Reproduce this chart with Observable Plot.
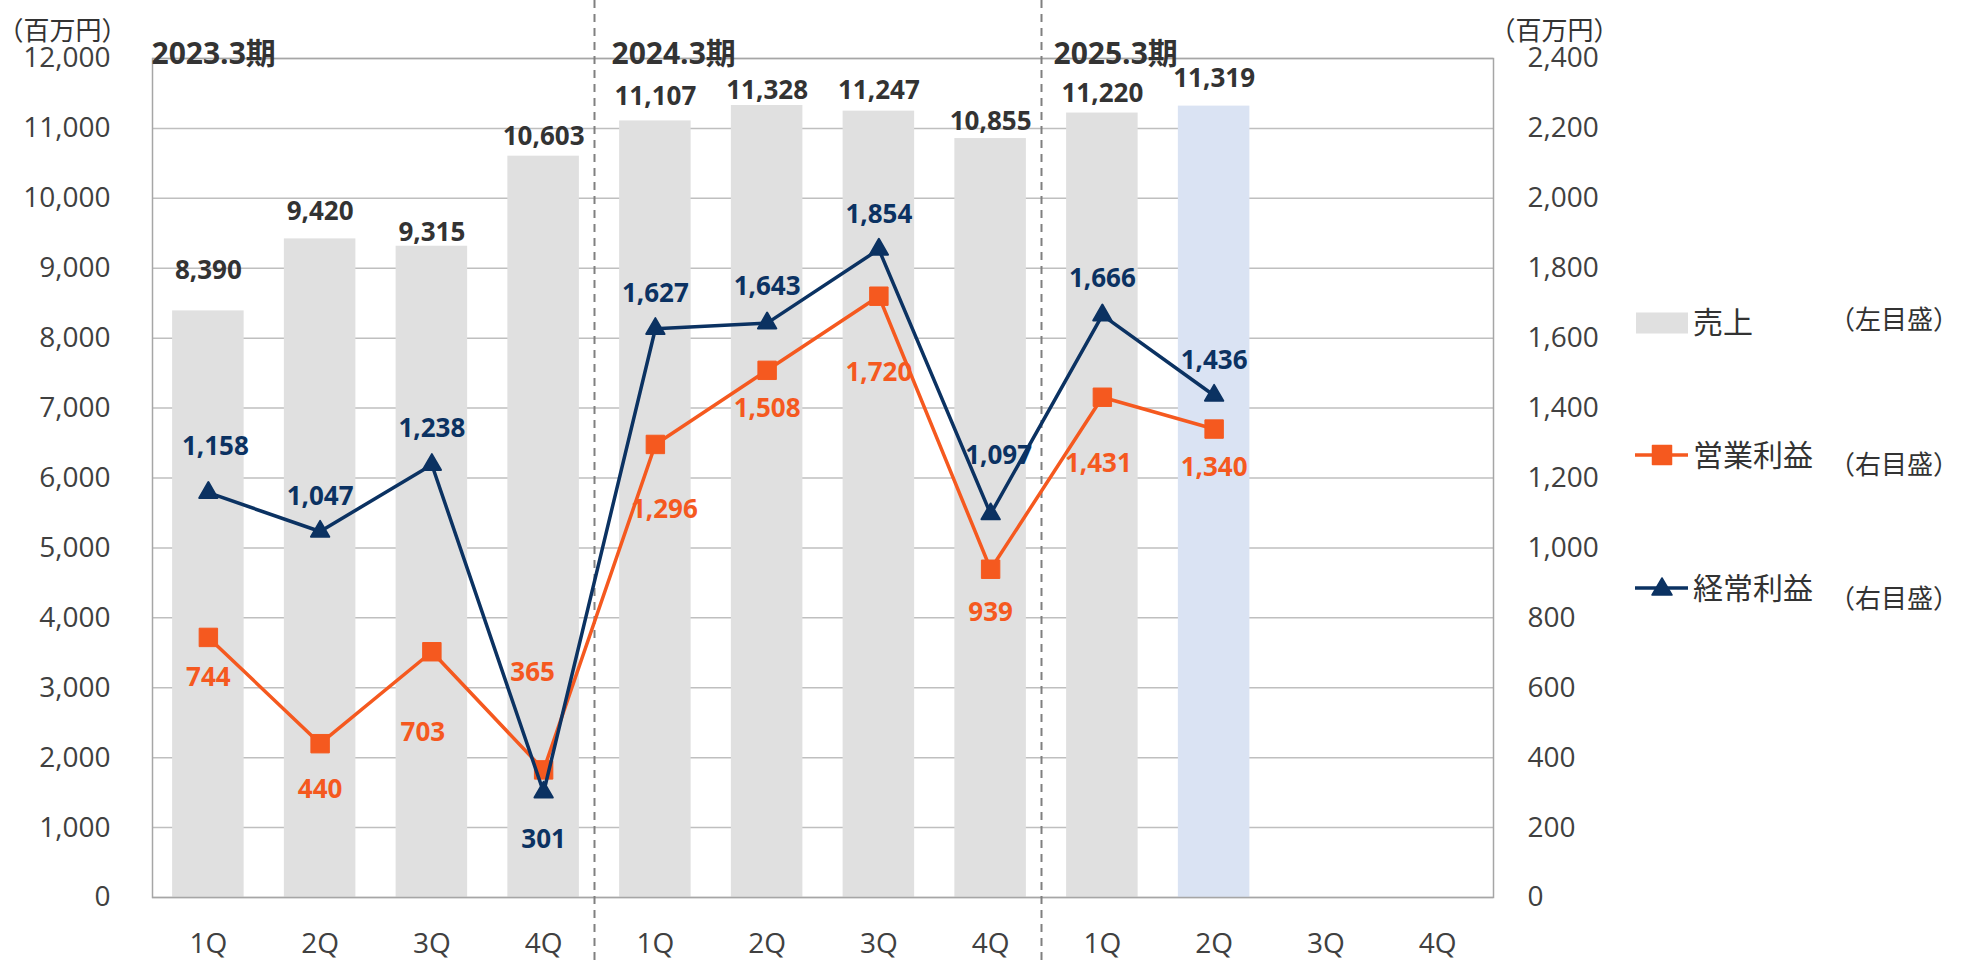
<!DOCTYPE html>
<html>
<head>
<meta charset="utf-8">
<script src="https://cdn.jsdelivr.net/npm/d3@7"></script>
<script src="https://cdn.jsdelivr.net/npm/@observablehq/plot@0.6"></script>
<style>
  html, body { margin: 0; padding: 0; background: #fff; }
  #wrap { position: relative; width: 1964px; height: 962px; font-family: "Open Sans", "Noto Sans CJK JP", sans-serif; color: #404040; }
  .lg { position: absolute; white-space: nowrap; }
</style>
</head>
<body>
<div id="wrap"></div>
<script>
// ---------------- data ----------------
const periods = ["2023.3期", "2024.3期", "2025.3期"];
const quarters = ["1Q", "2Q", "3Q", "4Q"];
const sales           = [8390, 9420, 9315, 10603, 11107, 11328, 11247, 10855, 11220, 11319, null, null];
const operatingProfit = [744, 440, 703, 365, 1296, 1508, 1720, 939, 1431, 1340, null, null];
const ordinaryProfit  = [1158, 1047, 1238, 301, 1627, 1643, 1854, 1097, 1666, 1436, null, null];
const leftTicks  = [0, 1000, 2000, 3000, 4000, 5000, 6000, 7000, 8000, 9000, 10000, 11000, 12000];
const rightTicks = [0, 200, 400, 600, 800, 1000, 1200, 1400, 1600, 1800, 2000, 2200, 2400];
const highlightKey = "2025.3期|2Q";
const unitLabel = "（百万円）";
const legendItems = ["売上", "営業利益", "経常利益"];
const legendScales = ["（左目盛）", "（右目盛）", "（右目盛）"];

// ---------------- label layout (pixel nudges) ----------------
const salesDy = [-40, -27, -14, -20, -24, -15, -20, -17, -19, -27];
const ordDy   = [-46, -35, -36, 47, -35, -36, -35, -58, -36, -35];
const ordDx   = [7, 0, 0, 0, 0, 0, 0, 8, 0, 0];
const opDy    = [40, 46, 81, -97, 65, 38, 76, 43, 66, 39];
const opDx    = [0, 0, -9, -11, 9, 0, 0, 0, -4, 0];
const periodDx = [-1, 12, 7];

// ---------------- build ----------------
const W = 1964, H = 962;
const mL = 152, mR = 471, mT = 58, mB = 65;
const step = (W - mL - mR) / 12;
const ratio = leftTicks[leftTicks.length - 1] / rightTicks[rightTicks.length - 1];
const fmt = d3.format(",");
const GREY = "#e0e0e0", BLUE = "#dae3f3", ORANGE = "#f5591f", NAVY = "#0b3262", DARK = "#333333";

const keys = periods.flatMap(p => quarters.map(q => p + "|" + q));
const rows = keys.map((key, i) => ({key, sales: sales[i], op: operatingProfit[i], ord: ordinaryProfit[i]}));
const salesRows = rows.filter(d => d.sales != null);
const opRows = rows.filter(d => d.op != null);
const ordRows = rows.filter(d => d.ord != null);

const labelFont = {fontSize: 26, fontWeight: "bold"};

const salesLabels = salesRows.map((d, i) => Plot.text([d], {
  x: "key", y: "sales", text: r => fmt(r.sales), dy: salesDy[i], fill: DARK, ...labelFont
}));
const opLabels = opRows.map((d, i) => Plot.text([d], {
  x: "key", y: r => r.op * ratio, text: r => fmt(r.op), dy: opDy[i], dx: opDx[i], fill: ORANGE, ...labelFont
}));
const ordLabels = ordRows.map((d, i) => Plot.text([d], {
  x: "key", y: r => r.ord * ratio, text: r => fmt(r.ord), dy: ordDy[i], dx: ordDx[i], fill: NAVY, ...labelFont
}));
const periodLabels = periods.map((p, i) => Plot.text([{p, key: p + "|1Q"}], {
  x: "key", frameAnchor: "top", text: "p", textAnchor: "start", dx: -step / 2 + periodDx[i], dy: -16,
  fontSize: 30, fontWeight: "bold", fill: DARK
}));

const chart = Plot.plot({
  width: W, height: H,
  marginLeft: mL, marginRight: mR, marginTop: mT, marginBottom: mB,
  style: {fontFamily: "'Open Sans','Noto Sans CJK JP',sans-serif", color: "#404040", background: "white", overflow: "visible"},
  x: {type: "band", domain: keys, paddingInner: 0.36, paddingOuter: 0.18, round: false},
  y: {domain: [leftTicks[0], leftTicks[leftTicks.length - 1]]},
  marks: [
    Plot.gridY(leftTicks, {stroke: "#bfbfbf", strokeOpacity: 1, strokeWidth: 1.5}),
    Plot.barY(salesRows, {x: "key", y: "sales", fill: d => d.key === highlightKey ? BLUE : GREY}),
    Plot.frame({stroke: "#a6a6a6", strokeWidth: 1.5}),
    Plot.ruleX([keys[4], keys[8]], {x: d => d, dx: -step / 2 - 5, stroke: "#808080", strokeWidth: 2, strokeDasharray: "8,6", insetTop: -mT, insetBottom: -mB}),
    Plot.axisY(leftTicks, {anchor: "left", tickSize: 0, tickPadding: 42, fontSize: 28, tickFormat: fmt, label: null}),
    Plot.axisY(leftTicks, {anchor: "right", tickSize: 0, tickPadding: 34, fontSize: 28, tickFormat: d => fmt(d / ratio), label: null}),
    Plot.axisX(keys, {tickSize: 0, tickPadding: 36, fontSize: 28, tickFormat: k => k.split("|")[1], label: null}),
    Plot.line(opRows, {x: "key", y: d => d.op * ratio, stroke: ORANGE, strokeWidth: 3.5}),
    Plot.dot(opRows, {x: "key", y: d => d.op * ratio, symbol: "square", r: 10.4, fill: ORANGE, stroke: ORANGE, strokeWidth: 1, strokeLinejoin: "round"}),
    Plot.line(ordRows, {x: "key", y: d => d.ord * ratio, stroke: NAVY, strokeWidth: 3.5}),
    Plot.dot(ordRows, {x: "key", y: d => d.ord * ratio, symbol: "triangle", r: 6.8, fill: NAVY, stroke: NAVY, strokeWidth: 2, strokeLinejoin: "round"}),
    ...salesLabels,
    ...opLabels,
    ...ordLabels,
    ...periodLabels,
    Plot.text([unitLabel], {frameAnchor: "top-left", textAnchor: "end", dx: -25, dy: -37, fontSize: 26, fill: "#333"}),
    Plot.text([unitLabel], {frameAnchor: "top-right", textAnchor: "start", dx: -4, dy: -37, fontSize: 26, fill: "#333"})
  ]
});

const wrap = document.getElementById("wrap");
wrap.appendChild(chart);

// ---------------- legend (HTML, right side) ----------------
const rowCenters = [322, 455, 588];
const scaleCenters = [319, 464, 598];
function addText(txt, left, center, size) {
  const s = document.createElement("div");
  s.className = "lg";
  s.textContent = txt;
  s.style.left = left + "px";
  s.style.top = (center - size * 0.62) + "px";
  s.style.fontSize = size + "px";
  s.style.lineHeight = (size * 1.24) + "px";
  s.style.color = "#333";
  wrap.appendChild(s);
}
function addSwatch(i, center) {
  const ns = "http://www.w3.org/2000/svg";
  const svg = document.createElementNS(ns, "svg");
  svg.setAttribute("width", 60); svg.setAttribute("height", 30);
  svg.style.position = "absolute";
  svg.style.left = "1632px";
  svg.style.top = (center - 15) + "px";
  if (i === 0) {
    const r = document.createElementNS(ns, "rect");
    r.setAttribute("x", 4); r.setAttribute("y", 4.5); r.setAttribute("width", 52); r.setAttribute("height", 21);
    r.setAttribute("fill", GREY);
    svg.appendChild(r);
  } else {
    const col = i === 1 ? ORANGE : NAVY;
    const l = document.createElementNS(ns, "line");
    l.setAttribute("x1", 3); l.setAttribute("x2", 56); l.setAttribute("y1", 15); l.setAttribute("y2", 15);
    l.setAttribute("stroke", col); l.setAttribute("stroke-width", 3.5);
    svg.appendChild(l);
    const p = document.createElementNS(ns, "path");
    if (i === 1) {
      p.setAttribute("d", "M20.5,5.5h19v19h-19z");
    } else {
      p.setAttribute("d", "M30,5L40,22H20Z");
    }
    p.setAttribute("fill", col); p.setAttribute("stroke", col); p.setAttribute("stroke-width", 1.5); p.setAttribute("stroke-linejoin", "round");
    svg.appendChild(p);
  }
  wrap.appendChild(svg);
}
legendItems.forEach((name, i) => {
  addSwatch(i, rowCenters[i] + (i === 0 ? 1 : 0));
  addText(name, 1693, rowCenters[i], 30);
  addText(legendScales[i], 1829, scaleCenters[i], 26);
});
</script>
</body>
</html>
